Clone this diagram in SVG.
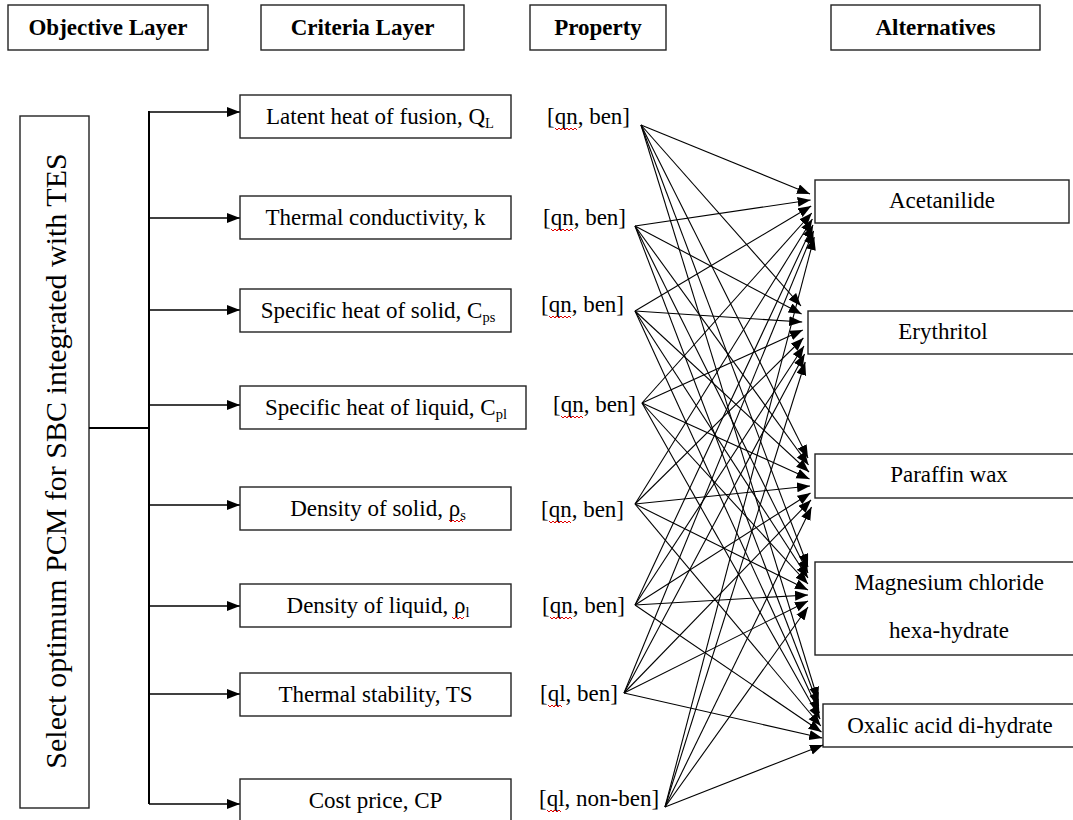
<svg xmlns="http://www.w3.org/2000/svg" width="1073" height="820" viewBox="0 0 1073 820">
  <style>
    .box { fill: #fff; stroke: #222; stroke-width: 1.4; }
    .t { font-family: "Liberation Serif", "Times New Roman", serif; font-size: 23px; fill: #000; }
    .hd { font-weight: bold; text-anchor: middle; }
    .c { text-anchor: middle; }
    .sub { font-size: 14.5px; }
    .ln { stroke: #000; stroke-width: 1.3; fill: none; }
    .trunk { stroke: #000; stroke-width: 2; fill: none; }
    .fan line { stroke: #000; stroke-width: 1.1; marker-end: url(#ah); }
    .sq { stroke: #e00000; stroke-width: 1; fill: none; }
  </style>
  <defs>
    <marker id="ah" markerUnits="userSpaceOnUse" markerWidth="14" markerHeight="11" refX="13" refY="5" orient="auto">
      <path d="M0,0 L13,5 L0,10 z" fill="#000"/>
    </marker>
  </defs>
  <rect width="1073" height="820" fill="#fff"/>

  <!-- column headers -->
  <g id="hdr-objective"><rect class="box" x="8" y="5" width="200" height="45"/><text class="t hd" x="108" y="35">Objective Layer</text></g>
  <g id="hdr-criteria"><rect class="box" x="261" y="5" width="203" height="45"/><text class="t hd" x="362.5" y="35">Criteria Layer</text></g>
  <g id="hdr-property"><rect class="box" x="530" y="5" width="136" height="45"/><text class="t hd" x="598" y="35">Property</text></g>
  <g id="hdr-alternatives"><rect class="box" x="831" y="5" width="209" height="45"/><text class="t hd" x="935.5" y="35">Alternatives</text></g>

  <!-- objective -->
  <g id="objective">
    <rect class="box" x="20" y="116" width="69" height="692"/>
    <text class="t c" style="font-size:30px" transform="translate(66,461) rotate(-90)">Select optimum PCM for SBC integrated with TES</text>
  </g>

  <!-- objective to criteria tree -->
  <g id="tree">
    <line class="trunk" x1="89" y1="428" x2="149" y2="428"/>
    <line class="trunk" x1="149" y1="111" x2="149" y2="804"/>
    <g style="marker-end:url(#ah)">
      <line class="ln" x1="149" y1="112" x2="240" y2="112"/>
      <line class="ln" x1="149" y1="218" x2="240" y2="218"/>
      <line class="ln" x1="149" y1="310" x2="240" y2="310"/>
      <line class="ln" x1="149" y1="405" x2="240" y2="405"/>
      <line class="ln" x1="149" y1="505" x2="240" y2="505"/>
      <line class="ln" x1="149" y1="606" x2="240" y2="606"/>
      <line class="ln" x1="149" y1="694" x2="240" y2="694"/>
      <line class="ln" x1="149" y1="804" x2="240" y2="804"/>
    </g>
  </g>

  <!-- criteria -->
  <g id="c-latent"><rect class="box" x="240" y="95" width="271" height="43"/><text class="t c" x="380" y="124">Latent heat of fusion, Q<tspan class="sub" dy="4">L</tspan></text></g>
  <g id="c-conductivity"><rect class="box" x="240" y="196" width="271" height="43"/><text class="t c" x="375.5" y="225">Thermal conductivity, k</text></g>
  <g id="c-cps"><rect class="box" x="240" y="289" width="271" height="43"/><text class="t c" x="378" y="318">Specific heat of solid, C<tspan class="sub" dy="4">ps</tspan></text></g>
  <g id="c-cpl"><rect class="box" x="240" y="386" width="286" height="43"/><text class="t c" x="386" y="415">Specific heat of liquid, C<tspan class="sub" dy="4">pl</tspan></text></g>
  <g id="c-rho-s"><rect class="box" x="240" y="487" width="271" height="43"/><text class="t c" x="378" y="516">Density of solid, ρ<tspan class="sub" dy="4">s</tspan></text></g>
  <g id="c-rho-l"><rect class="box" x="240" y="584" width="271" height="43"/><text class="t c" x="378" y="613">Density of liquid, ρ<tspan class="sub" dy="4">l</tspan></text></g>
  <g id="c-ts"><rect class="box" x="240" y="673" width="271" height="43"/><text class="t c" x="375.5" y="702">Thermal stability, TS</text></g>
  <g id="c-cp"><rect class="box" x="240" y="779" width="271" height="50"/><text class="t c" x="375.5" y="808">Cost price, CP</text></g>

  <!-- property tags -->
  <g id="properties" class="t">
    <text x="547" y="124">[qn, ben]</text>
    <text x="543" y="225">[qn, ben]</text>
    <text x="541" y="312">[qn, ben]</text>
    <text x="553" y="412">[qn, ben]</text>
    <text x="541" y="517">[qn, ben]</text>
    <text x="542" y="613">[qn, ben]</text>
    <text x="540" y="701">[ql, ben]</text>
    <text x="539" y="806">[ql, non-ben]</text>
  </g>

  <!-- spell-check marks -->
  <g id="squiggles" class="sq">
    <path d="M555,128 l2,2 l2,-2 l2,2 l2,-2 l2,2 l2,-2 l2,2 l2,-2 l2,2 l2,-2 l2,2"/>
    <path d="M551,229 l2,2 l2,-2 l2,2 l2,-2 l2,2 l2,-2 l2,2 l2,-2 l2,2 l2,-2 l2,2"/>
    <path d="M549,316 l2,2 l2,-2 l2,2 l2,-2 l2,2 l2,-2 l2,2 l2,-2 l2,2 l2,-2 l2,2"/>
    <path d="M561,416 l2,2 l2,-2 l2,2 l2,-2 l2,2 l2,-2 l2,2 l2,-2 l2,2 l2,-2 l2,2"/>
    <path d="M549,521 l2,2 l2,-2 l2,2 l2,-2 l2,2 l2,-2 l2,2 l2,-2 l2,2 l2,-2 l2,2"/>
    <path d="M550,617 l2,2 l2,-2 l2,2 l2,-2 l2,2 l2,-2 l2,2 l2,-2 l2,2 l2,-2 l2,2"/>
    <path d="M548,705 l2,2 l2,-2 l2,2 l2,-2 l2,2 l2,-2 l2,2"/>
    <path d="M547,810 l2,2 l2,-2 l2,2 l2,-2 l2,2 l2,-2 l2,2"/>
    <path d="M449,520 l2,2 l2,-2 l2,2 l2,-2 l2,2 l2,-2 l2,2"/>
    <path d="M452,617 l2,2 l2,-2 l2,2 l2,-2 l2,2 l2,-2"/>
  </g>

  <!-- alternatives -->
  <g id="a-acetanilide"><rect class="box" x="815" y="180" width="254" height="43"/><text class="t c" x="942" y="208">Acetanilide</text></g>
  <g id="a-erythritol"><rect class="box" x="808" y="311" width="280" height="43"/><text class="t c" x="943" y="339">Erythritol</text></g>
  <g id="a-paraffin"><rect class="box" x="815" y="454" width="270" height="44"/><text class="t c" x="949" y="482">Paraffin wax</text></g>
  <g id="a-mgcl"><rect class="box" x="815" y="562" width="270" height="93"/><text class="t c" x="949" y="590">Magnesium chloride</text><text class="t c" x="949" y="638">hexa-hydrate</text></g>
  <g id="a-oxalic"><rect class="box" x="823" y="704" width="262" height="43"/><text class="t c" x="950" y="733">Oxalic acid di-hydrate</text></g>

  <!-- property to alternative links -->
  <g id="connectors" class="fan">
    <line x1="641" y1="125" x2="810" y2="194"/>
    <line x1="641" y1="125" x2="801" y2="306"/>
    <line x1="641" y1="125" x2="808" y2="458"/>
    <line x1="641" y1="125" x2="808" y2="567"/>
    <line x1="641" y1="125" x2="818" y2="700"/>

    <line x1="635" y1="226" x2="810.6" y2="200"/>
    <line x1="635" y1="226" x2="801.6" y2="314"/>
    <line x1="635" y1="226" x2="808.5" y2="465"/>
    <line x1="635" y1="226" x2="808" y2="573"/>
    <line x1="635" y1="226" x2="818.7" y2="706"/>

    <line x1="635" y1="311" x2="811.2" y2="206"/>
    <line x1="635" y1="311" x2="802.2" y2="322"/>
    <line x1="635" y1="311" x2="809" y2="472"/>
    <line x1="635" y1="311" x2="808" y2="578"/>
    <line x1="635" y1="311" x2="819.4" y2="713"/>

    <line x1="642" y1="403" x2="811.8" y2="213"/>
    <line x1="642" y1="403" x2="802.8" y2="330"/>
    <line x1="642" y1="403" x2="809.5" y2="479"/>
    <line x1="642" y1="403" x2="808" y2="584"/>
    <line x1="642" y1="403" x2="820.1" y2="719"/>

    <line x1="635" y1="504" x2="812.4" y2="219"/>
    <line x1="635" y1="504" x2="803.4" y2="338"/>
    <line x1="635" y1="504" x2="810" y2="486"/>
    <line x1="635" y1="504" x2="808" y2="590"/>
    <line x1="635" y1="504" x2="820.8" y2="726"/>

    <line x1="635" y1="605" x2="813" y2="225"/>
    <line x1="635" y1="605" x2="804" y2="346"/>
    <line x1="635" y1="605" x2="810.5" y2="493"/>
    <line x1="635" y1="605" x2="808" y2="595"/>
    <line x1="635" y1="605" x2="821.5" y2="732"/>

    <line x1="624" y1="693" x2="813.6" y2="231"/>
    <line x1="624" y1="693" x2="804.6" y2="354"/>
    <line x1="624" y1="693" x2="811" y2="500"/>
    <line x1="624" y1="693" x2="808" y2="601"/>
    <line x1="624" y1="693" x2="822.2" y2="738"/>

    <line x1="665" y1="807" x2="814.2" y2="237"/>
    <line x1="665" y1="807" x2="805.2" y2="362"/>
    <line x1="665" y1="807" x2="811.5" y2="507"/>
    <line x1="665" y1="807" x2="808" y2="607"/>
    <line x1="665" y1="807" x2="823" y2="745"/>
  </g>
</svg>
